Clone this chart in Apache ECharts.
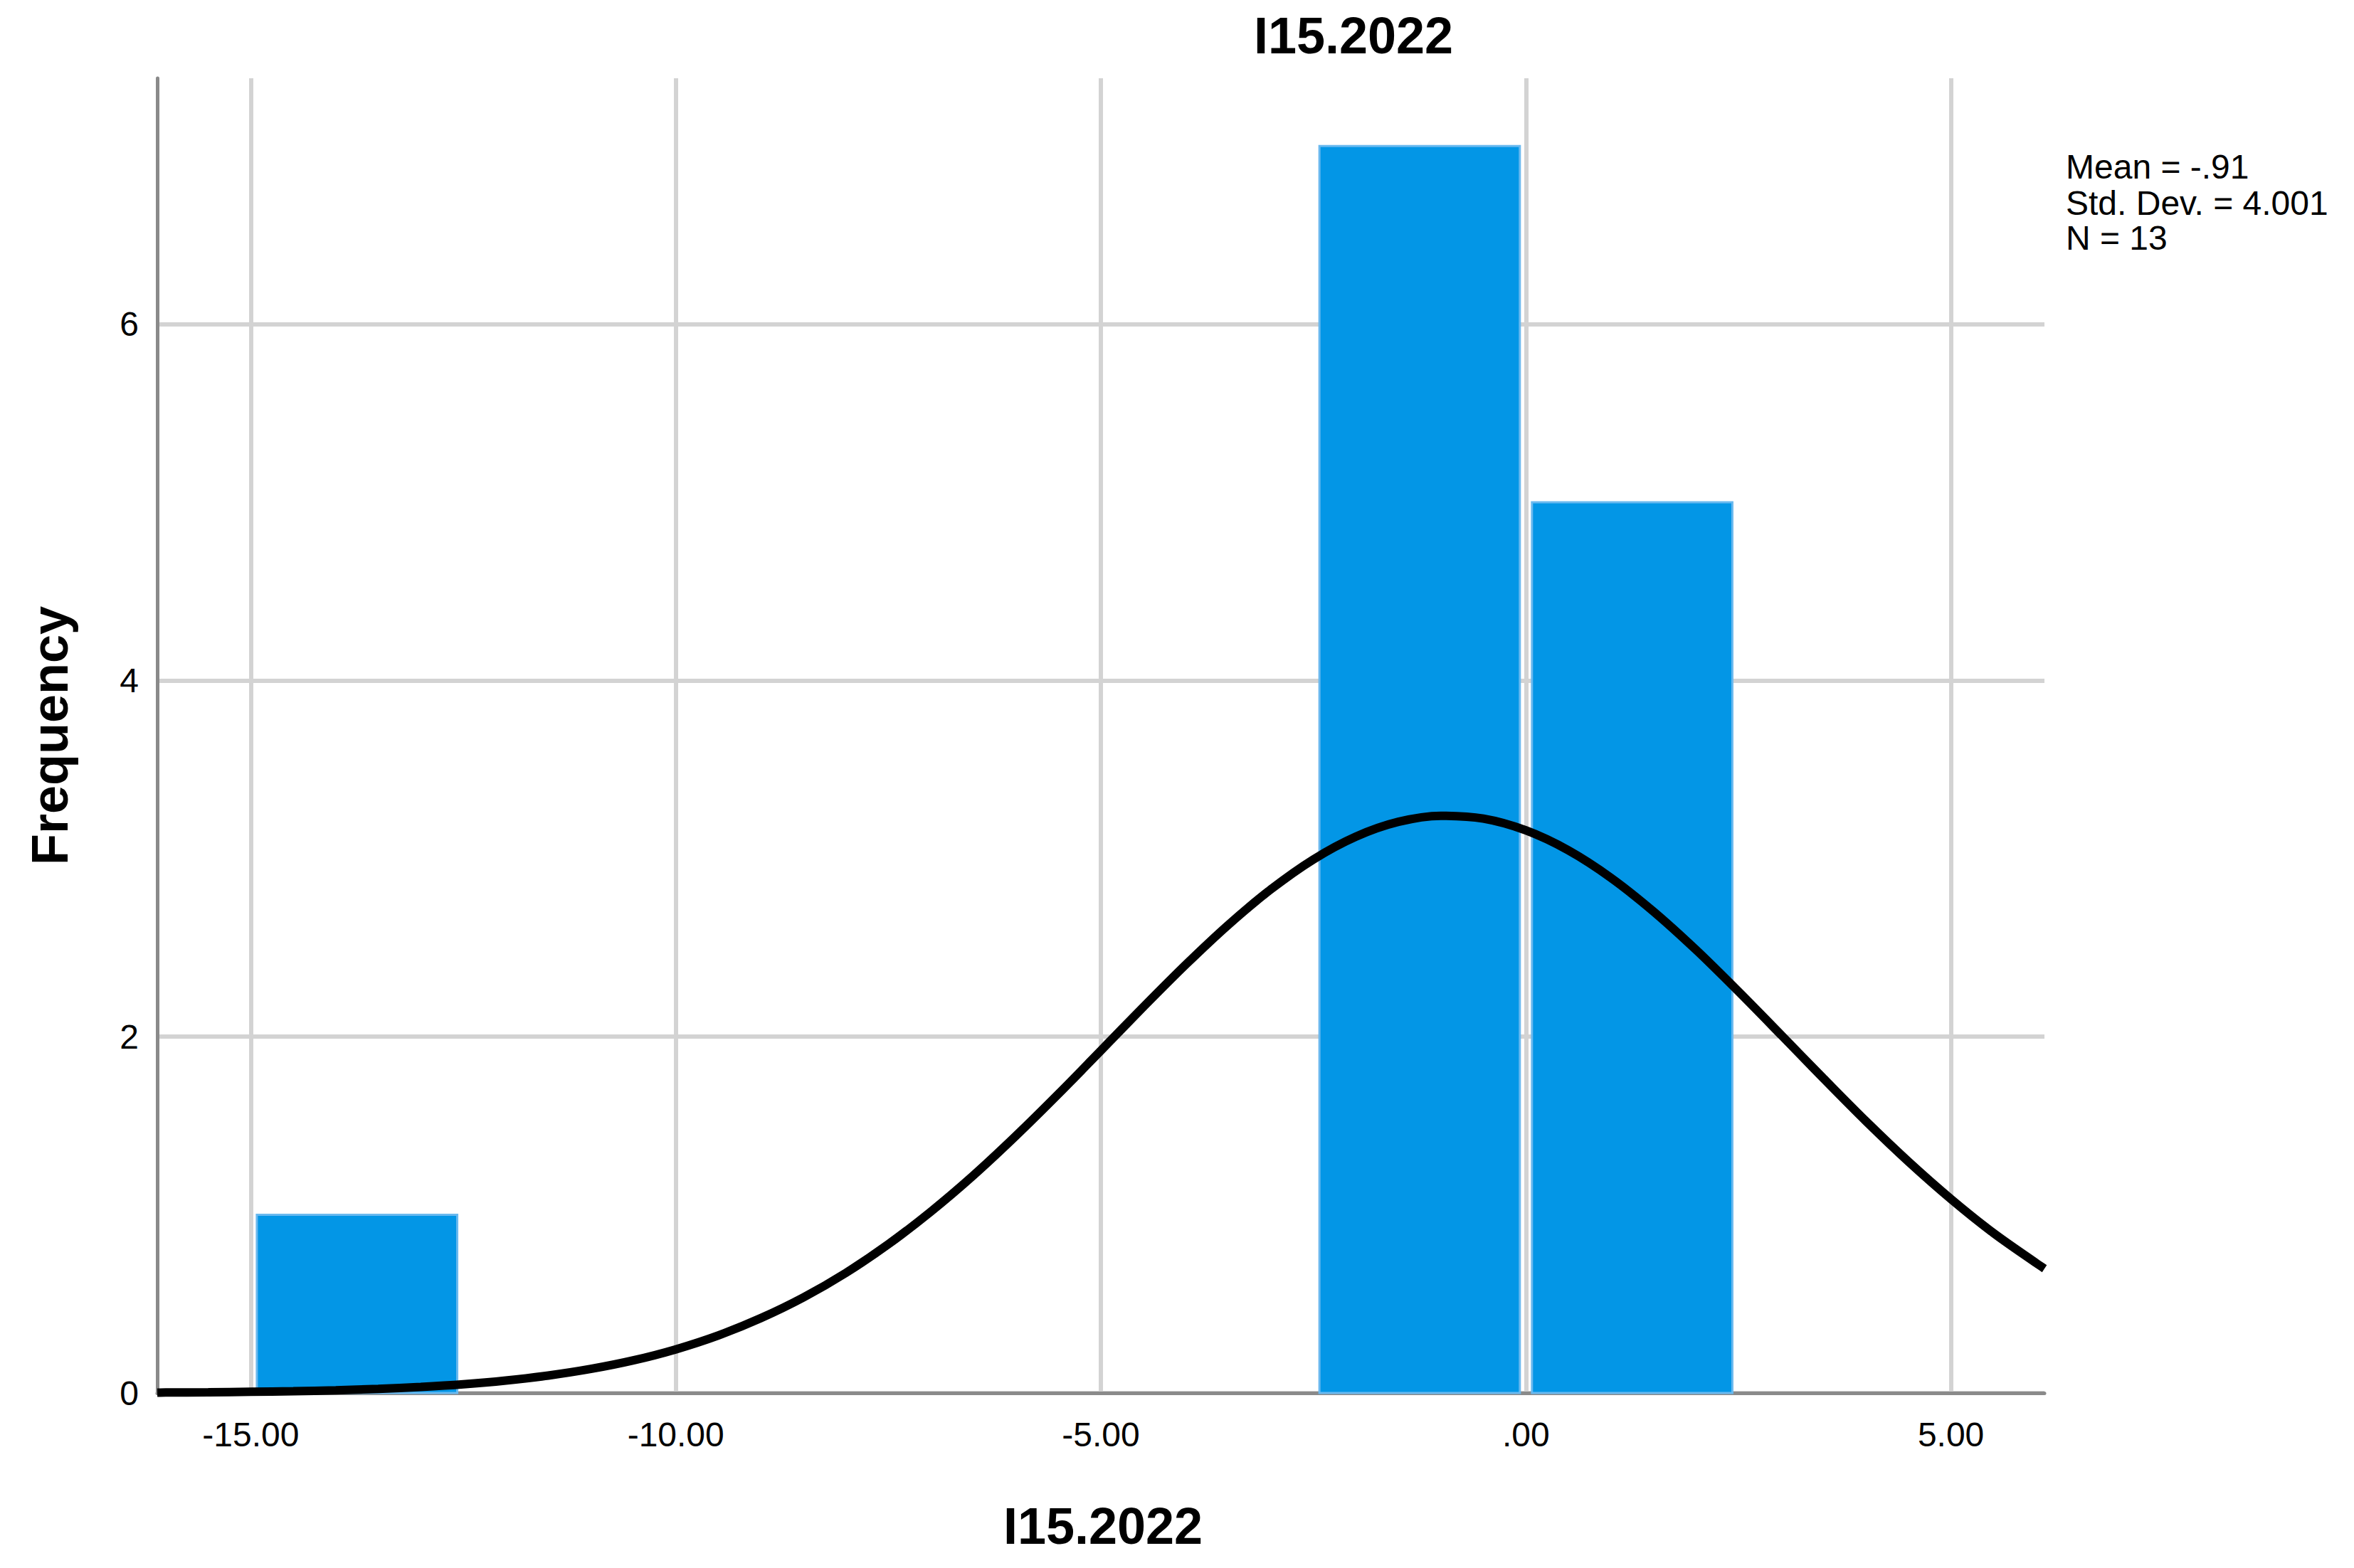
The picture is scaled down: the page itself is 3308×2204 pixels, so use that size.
<!DOCTYPE html>
<html>
<head>
<meta charset="utf-8">
<script src="https://cdn.jsdelivr.net/npm/echarts@6/dist/echarts.min.js"></script>
<style>html,body{margin:0;padding:0;background:#fff;}#c{width:3308px;height:2204px;}</style>
</head>
<body>
<div id="c"></div>
<script>
// ---- data ----
var chartTitle = 'I15.2022';
var xAxisTitle = 'I15.2022';
var yAxisTitle = 'Frequency';
var binLow  = [-15, -2.5, 0];
var binHigh = [-12.5, 0, 2.5];
var binCount = [1, 7, 5];
var xTickValues = [-15, -10, -5, 0, 5];
var xTickLabels = ['-15.00', '-10.00', '-5.00', '.00', '5.00'];
var yTickValues = [0, 2, 4, 6];
var statsLines = ['Mean = -.91', 'Std. Dev. = 4.001', 'N = 13'];
// normal curve (x, frequency)
var curveX = [-16.1,-16,-15.5,-15,-14.5,-14,-13.5,-13,-12.5,-12,-11.5,-11,-10.5,-10,-9.5,-9,-8.5,-8,-7.5,-7,-6.5,-6,-5.5,-5,-4.5,-4,-3.5,-3,-2.5,-2,-1.5,-1,-0.5,0,0.5,1,1.5,2,2.5,3,3.5,4,4.5,5,5.5,6,6.1];
var curveY = [0.002,0.003,0.004,0.007,0.010,0.015,0.023,0.034,0.049,0.070,0.098,0.135,0.183,0.245,0.323,0.420,0.536,0.674,0.835,1.018,1.221,1.443,1.678,1.922,2.167,2.405,2.628,2.827,2.995,3.123,3.206,3.240,3.224,3.158,3.046,2.892,2.703,2.488,2.254,2.011,1.766,1.526,1.299,1.089,0.898,0.730,0.698];

var FONT = "'Liberation Sans', Arial, sans-serif";
var chart = echarts.init(document.getElementById('c'), null, {renderer: 'svg'});

var barData = binLow.map(function (lo, i) { return [lo, binHigh[i], binCount[i]]; });
var curveData = curveX.map(function (x, i) { return [x, curveY[i]]; });

var option = {
  backgroundColor: '#ffffff',
  animation: false,
  grid: {left: 221, right: 435, top: 110, bottom: 246, containLabel: false},
  xAxis: {
    type: 'value', min: -16.1, max: 6.1,
    axisLine: {show: true, onZero: false, lineStyle: {color: '#8a8a8a', width: 5}},
    axisTick: {show: false, customValues: xTickValues},
    axisLabel: {
      customValues: xTickValues, margin: 34, color: '#000', fontFamily: FONT, fontSize: 48,
      formatter: function (v) { var i = xTickValues.indexOf(v); return i >= 0 ? xTickLabels[i] : ''; }
    },
    splitLine: {show: true, lineStyle: {color: '#d3d3d3', width: 6}}
  },
  yAxis: {
    type: 'value', min: 0, max: 7.38,
    axisLine: {show: true, onZero: false, lineStyle: {color: '#8a8a8a', width: 5}},
    axisTick: {show: false, customValues: yTickValues},
    axisLabel: {customValues: yTickValues, margin: 26, color: '#000', fontFamily: FONT, fontSize: 48},
    splitLine: {show: true, lineStyle: {color: '#d3d3d3', width: 6}}
  },
  series: [
    {
      type: 'custom', data: barData, z: 2,
      renderItem: function (params, api) {
        var p0 = api.coord([api.value(0), 0]);
        var p1 = api.coord([api.value(1), api.value(2)]);
        var inset = 8.5;
        return {
          type: 'rect',
          shape: {x: p0[0] + inset, y: p1[1], width: (p1[0] - p0[0]) - 2 * inset, height: p0[1] - p1[1]},
          style: {fill: '#0396e6', stroke: '#6ab9ef', lineWidth: 3}
        };
      }
    },
    {
      type: 'line', data: curveData, smooth: 0.3, symbol: 'none', z: 5,
      lineStyle: {color: '#000', width: 12}
    }
  ],
  graphic: [
    {type: 'text', x: 1902, y: 50, style: {text: chartTitle, font: 'bold 72px ' + FONT, fill: '#000', textAlign: 'center', textVerticalAlign: 'middle'}},
    {type: 'text', x: 1550, y: 2145, style: {text: xAxisTitle, font: 'bold 72px ' + FONT, fill: '#000', textAlign: 'center', textVerticalAlign: 'middle'}},
    {type: 'text', x: 70, y: 1034, rotation: Math.PI / 2, style: {text: yAxisTitle, font: 'bold 72px ' + FONT, fill: '#000', textAlign: 'center', textVerticalAlign: 'middle'}},
    {type: 'text', x: 2903, y: 234, style: {text: statsLines[0], font: '48px ' + FONT, fill: '#000', textAlign: 'left', textVerticalAlign: 'middle'}},
    {type: 'text', x: 2903, y: 285, style: {text: statsLines[1], font: '48px ' + FONT, fill: '#000', textAlign: 'left', textVerticalAlign: 'middle'}},
    {type: 'text', x: 2903, y: 334, style: {text: statsLines[2], font: '48px ' + FONT, fill: '#000', textAlign: 'left', textVerticalAlign: 'middle'}}
  ]
};
chart.setOption(option);
</script>
</body>
</html>
